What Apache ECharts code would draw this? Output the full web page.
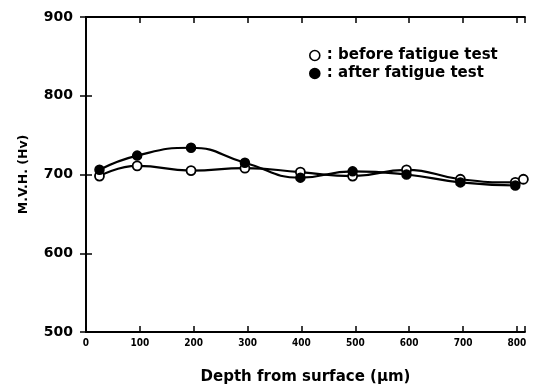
<!DOCTYPE html>
<html>
<head>
<meta charset="utf-8">
<script src="https://cdn.jsdelivr.net/npm/echarts@6/dist/echarts.min.js"></script>
<style>
  html, body { margin: 0; padding: 0; background: #fff; }
  #chart { width: 541px; height: 390px; }
</style>
</head>
<body>
<div id="chart"></div>
<script>
// Micro-Vickers hardness profile vs depth below the surface
const depthBefore = [25, 95, 195, 295, 398, 495, 595, 695, 797, 812];
const hvBefore    = [698, 711, 705, 708, 703, 698, 706, 694, 690, 694];
const depthAfter  = [25, 95, 195, 295, 398, 495, 595, 695, 797];
const hvAfter     = [706, 724, 734, 715, 696, 704, 700, 690, 686];
const seriesNames = ['before fatigue test', 'after fatigue test'];
const xTicks = [0, 100, 200, 300, 400, 500, 600, 700, 800];
const yTicks = [500, 600, 700, 800, 900];

const FONT = 'DejaVu Sans';
const NARROW = '"DejaVu Sans Condensed", "Liberation Sans Narrow", sans-serif';
const pairs = (xs, ys) => xs.map((x, i) => [x, ys[i]]);

const axisCommon = {
  axisLine: { show: true, lineStyle: { color: '#000', width: 1.8 } },
  axisTick: { show: true, inside: true, length: 6, lineStyle: { color: '#000', width: 1.5 } },
  splitLine: { show: false }
};

const chart = echarts.init(document.getElementById('chart'));
chart.setOption({
  animation: false,
  backgroundColor: '#fff',
  grid: { left: 86, right: 16, top: 17, bottom: 57 },
  legend: {
    orient: 'vertical',
    left: 309, top: 48, padding: 0,
    itemWidth: 10, itemHeight: 10, itemGap: 3,
    data: [
      { name: seriesNames[0], icon: 'circle',
        itemStyle: { color: '#fff', borderColor: '#000', borderWidth: 1.6 } },
      { name: seriesNames[1], icon: 'circle',
        itemStyle: { color: '#000', borderColor: '#000', borderWidth: 1.6 } }
    ],
    formatter: n => ': ' + n,
    textStyle: { fontFamily: FONT, fontWeight: 'bold', fontSize: 15, color: '#000', padding: [0, 0, 0, 2] }
  },
  xAxis: [
    Object.assign({
      type: 'value', min: 0, max: 815, interval: 100,
      name: 'Depth from surface (\u00b5m)', nameLocation: 'middle', nameGap: 38,
      nameTextStyle: { fontFamily: FONT, fontWeight: 'bold', fontSize: 15, color: '#000' },
      axisLabel: {
        margin: 6, fontFamily: NARROW, fontWeight: 'bold', fontSize: 10, color: '#000',
        formatter: v => xTicks.includes(v) ? String(v) : ''
      }
    }, axisCommon),
    Object.assign({
      type: 'value', min: 0, max: 815, interval: 100, position: 'top',
      axisLabel: { show: false }
    }, axisCommon)
  ],
  yAxis: [
    Object.assign({
      type: 'value', min: 500, max: 900, interval: 100,
      name: 'M.V.H. (Hv)', nameLocation: 'middle', nameGap: 56,
      nameTextStyle: { fontFamily: FONT, fontWeight: 'bold', fontSize: 12.5, color: '#000' },
      axisLabel: {
        margin: 13, fontFamily: FONT, fontWeight: 'bold', fontSize: 14, color: '#000',
        formatter: v => yTicks.includes(v) ? String(v) : ''
      }
    }, axisCommon),
    Object.assign({
      type: 'value', min: 500, max: 900, interval: 100, position: 'right',
      axisLabel: { show: false }
    }, axisCommon)
  ],
  series: [
    {
      name: seriesNames[0], type: 'line', smooth: true, clip: true,
      data: pairs(depthBefore, hvBefore),
      symbol: 'circle', symbolSize: 9,
      lineStyle: { color: '#000', width: 2.2 },
      itemStyle: { color: '#fff', borderColor: '#000', borderWidth: 1.8 },
      z: 3
    },
    {
      name: seriesNames[1], type: 'line', smooth: true, clip: true,
      data: pairs(depthAfter, hvAfter),
      symbol: 'circle', symbolSize: 9,
      lineStyle: { color: '#000', width: 2.2 },
      itemStyle: { color: '#000', borderColor: '#000', borderWidth: 1.5 },
      z: 4
    }
  ]
});
</script>
</body>
</html>
